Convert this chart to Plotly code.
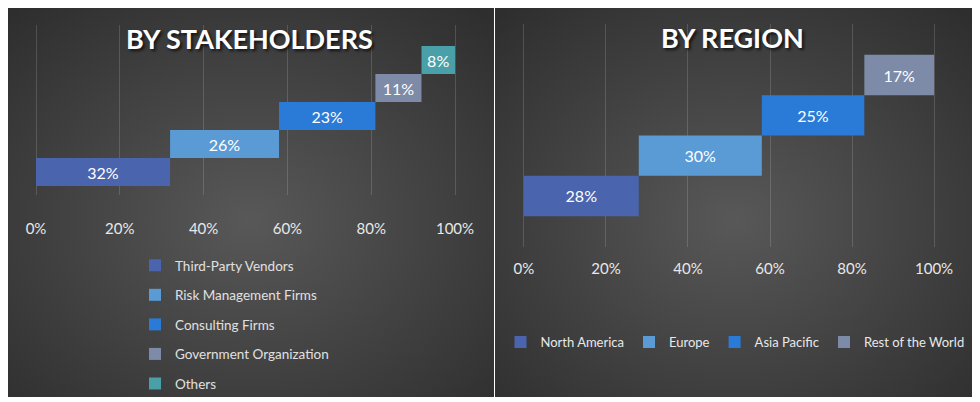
import base64
import plotly.graph_objects as go

# data
stakeholders = [
    "Third-Party Vendors",
    "Risk Management Firms",
    "Consulting Firms",
    "Government Organization",
    "Others",
]
stakeholder_share = [32, 26, 23, 11, 8]
stakeholder_colors = ["#4a65ad", "#5b9bd5", "#2a7bd7", "#7d8ba8", "#4aa0a8"]

regions = ["North America", "Europe", "Asia Pacific", "Rest of the World"]
region_share = [28, 30, 25, 17]
region_colors = ["#4a65ad", "#5b9bd5", "#2a7bd7", "#7d8ba8"]

pct_ticks = [0, 20, 40, 60, 80, 100]

# the page body keeps its 8px default margin, so the figure is drawn 8px in
OFF = 8
W, H = 980 - OFF, 402 - OFF
FONT = "Lato"


def px_x(p):
    # page pixel -> paper fraction
    return (p - OFF) / W


def px_y(p):
    return 1 - (p - OFF) / H


def panel_bg(w, h):
    """radial grey gradient like the office chart background"""
    svg = (
        f'<svg xmlns="http://www.w3.org/2000/svg" width="{w}" height="{h}" '
        f'viewBox="0 0 {w} {h}" preserveAspectRatio="none">'
        '<defs><radialGradient id="g" cx="50%" cy="55%" r="72%">'
        '<stop offset="0" stop-color="#585858"/>'
        '<stop offset="1" stop-color="#2e2e2e"/>'
        "</radialGradient></defs>"
        '<rect width="100%" height="100%" fill="url(#g)"/></svg>'
    )
    return "data:image/svg+xml;base64," + base64.b64encode(svg.encode()).decode()


def waterfall_traces(names, shares, colors, xaxis, yaxis, legend, size):
    traces = []
    start = 0
    for i, (name, share, color) in enumerate(zip(names, shares, colors)):
        traces.append(
            go.Bar(
                x=[share],
                y=[i],
                base=[start],
                orientation="h",
                width=1,
                name=name,
                marker=dict(color=color, line=dict(width=0)),
                text=[f"{share}%"],
                textposition="inside",
                insidetextanchor="middle",
                constraintext="none",
                textangle=0,
                textfont=dict(color="white", size=size, family=FONT),
                xaxis=xaxis,
                yaxis=yaxis,
                legend=legend,
                legendgroup=name,
                hoverinfo="skip",
            )
        )
        start += share
    return traces


fig = go.Figure()
for t in waterfall_traces(
    stakeholders, stakeholder_share, stakeholder_colors, "x", "y", "legend", 16
):
    fig.add_trace(t)
for t in waterfall_traces(
    regions, region_share, region_colors, "x2", "y2", "legend2", 16
):
    fig.add_trace(t)

axis_common = dict(
    tickvals=pct_ticks,
    ticktext=[f"{v}%" for v in pct_ticks],
    range=[-0.5, 100.5],
    showgrid=True,
    gridcolor="rgba(255,255,255,0.15)",
    gridwidth=1,
    zeroline=False,
    showline=False,
    ticks="",
    tickfont=dict(color="#e8e8e8", size=15, family=FONT),
    fixedrange=True,
)

fig.update_layout(
    width=W,
    height=H,
    margin=dict(l=0, r=0, t=0, b=0, autoexpand=False),
    paper_bgcolor="white",
    plot_bgcolor="rgba(0,0,0,0)",
    barmode="overlay",
    xaxis=dict(
        domain=[px_x(33.9), px_x(457.1)],
        anchor="y",
        ticklabelstandoff=23,
        **axis_common,
    ),
    yaxis=dict(
        domain=[px_y(195), px_y(25)],
        range=[-0.82, 5.25],
        visible=False,
        anchor="x",
        fixedrange=True,
    ),
    xaxis2=dict(
        domain=[px_x(521.9), px_x(936.1)],
        anchor="y2",
        ticklabelstandoff=11,
        **axis_common,
    ),
    yaxis2=dict(
        domain=[px_y(247), px_y(24)],
        range=[-1.265, 4.265],
        visible=False,
        anchor="x2",
        fixedrange=True,
    ),
    legend=dict(
        orientation="v",
        x=px_x(135),
        xanchor="left",
        y=px_y(250),
        yanchor="top",
        bgcolor="rgba(0,0,0,0)",
        font=dict(color="#e0e0e0", size=13.5, family=FONT),
        tracegroupgap=9,
        traceorder="grouped",
    ),
    legend2=dict(
        orientation="h",
        x=px_x(735),
        xanchor="center",
        y=px_y(342),
        yanchor="middle",
        bgcolor="rgba(0,0,0,0)",
        font=dict(color="#e8e8e8", size=13, family=FONT),
        traceorder="normal",
    ),
    images=[
        dict(
            source=panel_bg(489, 392),
            xref="paper",
            yref="paper",
            x=px_x(5),
            y=px_y(5),
            sizex=(494 - 5) / W,
            sizey=(397 - 5) / H,
            sizing="stretch",
            xanchor="left",
            yanchor="top",
            layer="below",
        ),
        dict(
            source=panel_bg(477, 393),
            xref="paper",
            yref="paper",
            x=px_x(495),
            y=px_y(4),
            sizex=(972 - 495) / W,
            sizey=(397 - 4) / H,
            sizing="stretch",
            xanchor="left",
            yanchor="top",
            layer="below",
        ),
    ],
    annotations=[
        dict(
            text="<b>BY STAKEHOLDERS</b>",
            xref="paper",
            yref="paper",
            x=px_x(249),
            y=px_y(38),
            xanchor="center",
            yanchor="middle",
            showarrow=False,
            font=dict(
                color="white",
                size=27,
                family=FONT,
                shadow="2px 2px 3px rgba(0,0,0,0.7)",
            ),
        ),
        dict(
            text="<b>BY REGION</b>",
            xref="paper",
            yref="paper",
            x=px_x(732),
            y=px_y(37),
            xanchor="center",
            yanchor="middle",
            showarrow=False,
            font=dict(
                color="white",
                size=27,
                family=FONT,
                shadow="2px 2px 3px rgba(0,0,0,0.7)",
            ),
        ),
    ],
)

fig.write_html("out.html")
